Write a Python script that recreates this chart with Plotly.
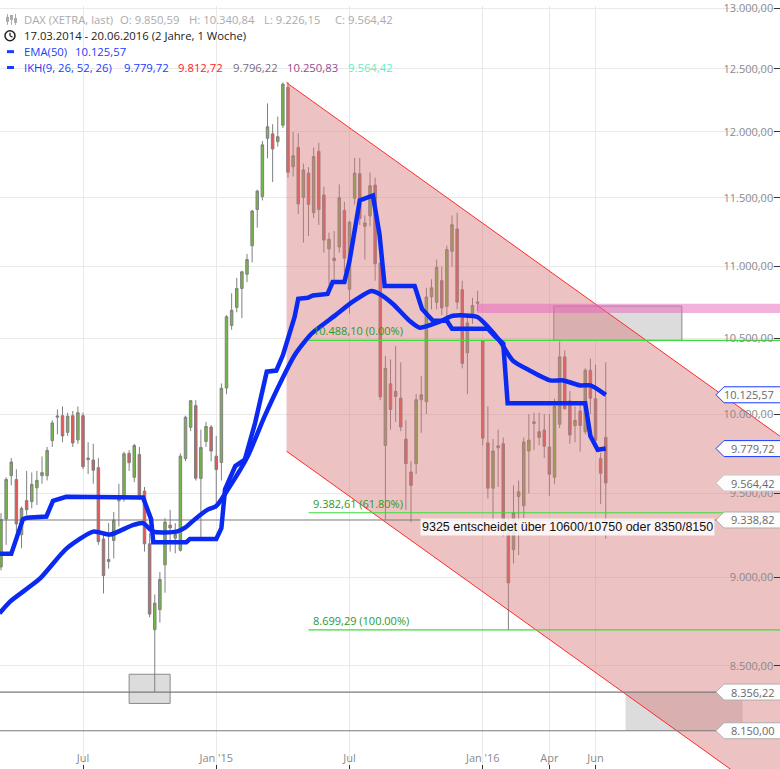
import numpy as np
import pandas as pd
import plotly.graph_objects as go

W, H = 780, 769

# ---------------- weekly DAX candles ----------------
first_week = "2014-03-17"
n_weeks = 119
opens = [9060, 9345, 9610, 9586, 9250, 9457, 9450, 9535, 9610, 9610,
         9830, 9980, 9990, 9883, 9990, 9835, 9990, 9710, 9708, 9660,
         9225, 9104, 9216, 9455, 9485, 9750, 9600, 9742, 9515, 9196,
         8700, 8813, 9072, 9308, 9230, 9158, 9716, 9915, 10055, 9593,
         9825, 9917, 9732, 9692, 10170, 10590, 10714, 10846, 10946, 11149,
         11413, 11509, 11950, 11985, 11925, 12052, 12351, 11733, 11880, 11503,
         11685, 11390, 11850, 11521, 11127, 11060, 11140, 11407, 10840, 11497,
         11680, 11290, 11366, 11595, 11025, 9800, 10198, 10148, 10104, 9840,
         9633, 9685, 10093, 10080, 10788, 10750, 10901, 10722, 11109, 11270,
         10837, 10404, 10670, 10752, 10483, 9816, 9533, 9785, 9810, 9308,
         9161, 9481, 9425, 9765, 9940, 9887, 9898, 9790, 9600, 9935,
         10377, 10086, 9926, 10020, 9887, 10288, 10100, 9717, 9850.59]
highs = [9380, 9600, 9720, 9650, 9420, 9640, 9630, 9640, 9730, 9790,
         9960, 10030, 10050, 10010, 10020, 10050, 10010, 9820, 9810, 9720,
         9250, 9320, 9387, 9560, 9760, 9770, 9810, 9790, 9540, 9260,
         8900, 9030, 9350, 9400, 9320, 9750, 9990, 10090, 10090, 9900,
         9950, 9930, 9860, 10200, 10660, 10812, 10920, 10970, 11090, 11410,
         11560, 11930, 12223, 12060, 12120, 12390, 12392, 12000, 11990, 11757,
         11730, 11880, 11916, 11583, 11244, 11255, 11600, 11470, 11330, 11800,
         11800, 11370, 11690, 11650, 11090, 10383, 10360, 10450, 10340, 9960,
         9700, 10130, 10250, 10850, 10910, 11050, 11000, 11150, 11370, 11390,
         10900, 10660, 10780, 10830, 10490, 10050, 9840, 9900, 9850, 9350,
         9550, 9580, 9850, 10000, 10010, 10010, 10000, 10000, 10100, 10480,
         10420, 10150, 10050, 10080, 10300, 10365, 10324, 9753, 10340.84]
lows = [9040, 9190, 9550, 9210, 9170, 9370, 9410, 9430, 9560, 9580,
        9790, 9870, 9820, 9860, 9790, 9810, 9650, 9620, 9560, 9190,
        8906, 9050, 9110, 9300, 9450, 9640, 9570, 9460, 9150, 8770,
        8355, 8740, 8910, 9150, 9140, 9150, 9700, 9890, 9580, 9225,
        9790, 9700, 9405, 9580, 10130, 10560, 10680, 10640, 10890, 11030,
        11280, 11480, 11797, 11618, 11887, 12030, 11650, 11660, 11380, 11172,
        11220, 11350, 11300, 11100, 10869, 10900, 11100, 10960, 10670, 11450,
        11300, 11050, 11290, 10900, 10090, 9338.82, 9900, 9950, 9890, 9400,
        9325, 9620, 9880, 10000, 10700, 10700, 10660, 10630, 11000, 10700,
        10300, 10130, 10600, 10690, 9800, 9470, 9314, 9540, 9240, 8699.29,
        9080, 9130, 9350, 9500, 9770, 9800, 9720, 9485, 9560, 9910,
        10030, 9810, 9820, 9760, 9870, 10000, 9830, 9435, 9226.15]
closes = [9342, 9587, 9695, 9315, 9409, 9401, 9556, 9581, 9629, 9768,
          9943, 9987, 9860, 9987, 9815, 10009, 9666, 9720, 9644, 9210,
          9009, 9092, 9339, 9470, 9747, 9691, 9799, 9490, 9196, 8788,
          8850, 8987, 9326, 9291, 9252, 9732, 9980, 10087, 9594, 9787,
          9921, 9764, 9648, 10168, 10649, 10694, 10846, 10963, 11050, 11402,
          11550, 11900, 12040, 11868, 11963, 12376, 11691, 11816, 11454, 11709,
          11451, 11810, 11413, 11190, 11196, 11043, 11500, 11060, 11320, 11685,
          11347, 11315, 11590, 11020, 10112, 10300, 10030, 10115, 9917, 9685,
          9550, 10093, 10126, 10786, 10850, 10994, 10710, 11121, 11302, 10750,
          10333, 10607, 10727, 10743, 9846, 9533, 9764, 9797, 9286, 8967,
          9384, 9510, 9821, 9833, 9950, 9851, 9794, 9619, 10051, 10377,
          10034, 9866, 9959, 9927, 10288, 10103, 9832, 9625, 9564.42]
week_dates = pd.date_range(first_week, periods=n_weeks, freq="7D")

# ---------------- indicator lines ----------------
ema_dates = ["2014-03-15", "2014-03-29", "2014-05-09", "2014-06-14", "2014-07-21",
             "2014-08-13", "2014-09-13", "2014-09-27", "2014-10-11", "2014-11-12",
             "2014-11-24", "2014-12-07", "2014-12-25", "2015-01-05", "2015-01-21",
             "2015-02-17", "2015-03-12", "2015-04-04", "2015-04-22", "2015-05-15",
             "2015-06-16", "2015-07-10", "2015-08-05", "2015-08-16", "2015-09-03",
             "2015-09-26", "2015-10-10", "2015-11-06", "2015-11-24", "2015-12-27",
             "2016-01-11", "2016-01-27", "2016-02-14", "2016-03-08", "2016-04-05",
             "2016-04-23", "2016-05-16", "2016-05-30", "2016-06-20"]
ema_vals = [8792, 8858, 8991, 9166, 9269,
            9251, 9308, 9320, 9269, 9269,
            9294, 9344, 9403, 9423, 9526,
            9732, 9985, 10220, 10388, 10533,
            10657, 10752, 10828, 10807, 10739,
            10621, 10574, 10615, 10656, 10649,
            10581, 10486, 10352, 10286, 10220,
            10220, 10187, 10187, 10125.57]

ikh_dates = ["2014-03-15", "2014-03-31", "2014-04-16", "2014-04-21", "2014-05-18",
             "2014-05-27", "2014-06-14", "2014-09-27", "2014-10-08", "2014-10-11",
             "2014-11-25", "2014-11-30", "2015-01-05", "2015-01-12", "2015-01-17",
             "2015-01-31", "2015-02-13", "2015-02-27", "2015-03-15", "2015-03-28",
             "2015-04-06", "2015-04-22", "2015-04-27", "2015-05-10", "2015-05-17",
             "2015-06-06", "2015-06-13", "2015-06-29", "2015-07-06", "2015-07-13",
             "2015-07-20", "2015-08-07", "2015-08-16", "2015-08-23", "2015-10-03",
             "2015-10-13", "2015-10-28", "2015-11-16", "2015-11-23", "2016-01-11",
             "2016-01-21", "2016-02-01", "2016-02-07", "2016-05-23", "2016-05-30",
             "2016-06-09", "2016-06-20"]
ikh_vals = [9137, 9137, 9344, 9352, 9360,
            9455, 9480, 9476, 9344, 9206,
            9206, 9225, 9225, 9290, 9526,
            9670, 9711, 9942, 10278, 10285,
            10388, 10648, 10773, 10780, 10797,
            10807, 10891, 10891, 11039, 11254,
            11480, 11517, 11232, 10863, 10863,
            10703, 10621, 10621, 10567, 10567,
            10513, 10466, 10071, 10071, 9860,
            9772, 9779.72]

# ---------------- drawings ----------------
channel_dates = ["2015-04-11", "2017-02-13"]
channel_upper = [12388, 9858]
channel_lower = [9763, 7770]

fib_start = "2015-05-11"
fib_label_date = "2015-05-15"
fib_levels = [10488.10, 9382.61, 8699.29]
fib_labels = ["10.488,10 (0.00%)", "9.382,61 (61.80%)", "8.699,29 (100.00%)"]

level_lines = [9338.82, 8356.22, 8150.00]

price_tags = [10125.57, 9779.72, 9564.42, 9338.82, 8356.22, 8150.00]
price_tag_edge = ["#1a3cff", "#1a3cff", "#c8c8c8", "#b0b0b0", "#b0b0b0", "#b0b0b0"]

zone_start = ["2014-09-08", "2016-04-10", "2016-07-17"]
zone_end = ["2014-11-03", "2016-10-02", "2016-12-24"]
zone_low = [8295, 10488.10, 8150.00]
zone_high = [8453, 10723, 8356.22]
zone_edge = ["#8a8a8a", "#8a8a8a", "rgba(0,0,0,0)"]

band_start = "2015-12-27"
band_low, band_high = 10675, 10739

note_text = "9325 entscheidet über 10600/10750 oder 8350/8150"
note_date, note_price = "2015-10-10", 9350

x_start, x_end = "2014-03-15 15:00", "2017-02-13"
y_range_prices = [7951, 13017]

x_tick_dates = ["2014-07-07", "2015-01-05", "2015-07-06", "2016-01-04", "2016-04-04", "2016-06-06"]
x_tick_text = ["Jul", "Jan '15", "Jul", "Jan '16", "Apr", "Jun"]
y_tick_vals = [8000, 8500, 9000, 9500, 10000, 10500, 11000, 11500, 12000, 12500, 13000]

header_rows = [
    # (text, x pixel, y pixel, colour)
    ("DAX (XETRA, last)", 22, 14, "#ababab"),
    ("O: 9.850,59", 118, 14, "#ababab"),
    ("H: 10.340,84", 187, 14, "#ababab"),
    ("L: 9.226,15", 262, 14, "#ababab"),
    ("C: 9.564,42", 333, 14, "#ababab"),
    ("17.03.2014 - 20.06.2016 (2 Jahre, 1 Woche)", 22, 30, "#222222"),
    ("EMA(50)", 22, 46, "#1a3cff"),
    ("10.125,57", 73, 46, "#1a3cff"),
    ("IKH(9, 26, 52, 26)", 22, 62, "#1a3cff"),
    ("9.779,72", 122, 62, "#1a3cff"),
    ("9.812,72", 176, 62, "#ff2222"),
    ("9.796,22", 231, 62, "#796d86"),
    ("10.250,83", 285, 62, "#934b93"),
    ("9.564,42", 346, 62, "#5cf2c2"),
]


def de(v):
    s = f"{v:,.2f}"
    return s.replace(",", "X").replace(".", ",").replace("X", ".")


def px(x):
    return x / W


def py(y):
    return 1 - y / H


LINE_BLUE = "#0a2af2"
FONT = "Open Sans"

fig = go.Figure()

fig.add_trace(go.Candlestick(
    x=week_dates, open=opens, high=highs, low=lows, close=closes,
    increasing=dict(fillcolor="#72b842", line=dict(color="#808080", width=1)),
    decreasing=dict(fillcolor="#e35757", line=dict(color="#808080", width=1)),
    whiskerwidth=0, hoverinfo="skip"))

# channel fill
fig.add_trace(go.Scatter(
    x=[channel_dates[0], channel_dates[1], channel_dates[1], channel_dates[0], channel_dates[0]],
    y=[channel_upper[0], channel_upper[1], channel_lower[1], channel_lower[0], channel_upper[0]],
    mode="lines", fill="toself", fillcolor="rgba(214,120,120,0.45)",
    line=dict(width=0, color="rgba(0,0,0,0)"), hoverinfo="skip"))
for arr in (channel_upper, channel_lower):
    fig.add_trace(go.Scatter(x=channel_dates, y=arr, mode="lines",
                             line=dict(color="#ff2a2a", width=1), hoverinfo="skip"))

for lv in level_lines:
    fig.add_trace(go.Scatter(x=[x_start, x_end], y=[lv, lv], mode="lines",
                             line=dict(color="#7a7a7a", width=1.2), hoverinfo="skip"))
for lv in fib_levels:
    fig.add_trace(go.Scatter(x=[fib_start, x_end], y=[lv, lv], mode="lines",
                             line=dict(color="#3ddc3d", width=1.2), hoverinfo="skip"))

fig.add_trace(go.Scatter(x=ema_dates, y=ema_vals, mode="lines",
                         line=dict(color=LINE_BLUE, width=4.5, shape="spline", smoothing=0.6),
                         hoverinfo="skip"))
fig.add_trace(go.Scatter(x=ikh_dates, y=ikh_vals, mode="lines",
                         line=dict(color=LINE_BLUE, width=4.5), hoverinfo="skip"))

shapes = []
for s, e, lo, hi, edge in zip(zone_start, zone_end, zone_low, zone_high, zone_edge):
    shapes.append(dict(type="rect", xref="x", yref="y", x0=s, x1=e, y0=lo, y1=hi,
                       fillcolor="#dcdcdc", line=dict(color=edge, width=1), layer="between"))
shapes.append(dict(type="rect", xref="x", yref="y", x0=band_start, x1=x_end,
                   y0=band_low, y1=band_high, fillcolor="rgba(232,100,190,0.5)",
                   line=dict(width=0), layer="above"))
for v, edge in zip(price_tags, price_tag_edge):
    shapes.append(dict(type="path", xref="paper", yref="y", xsizemode="pixel",
                       ysizemode="pixel", xanchor=1, yanchor=v,
                       path="M -64 0 L -56 8 L 3 8 L 3 -8 L -56 -8 Z",
                       fillcolor="#fdfdfd", line=dict(color=edge, width=1), layer="above"))

# header icons
for i, (xx, top, bot) in enumerate([(7.5, 11, 16), (11.5, 9, 14), (15.5, 12, 17)]):
    shapes.append(dict(type="line", xref="paper", yref="paper", x0=px(xx), x1=px(xx),
                       y0=py(8 + i % 2), y1=py(19), line=dict(color="#ababab", width=1)))
    shapes.append(dict(type="rect", xref="paper", yref="paper", x0=px(xx - 1.5), x1=px(xx + 1.5),
                       y0=py(top), y1=py(bot), fillcolor="#ababab", line=dict(width=0)))
shapes.append(dict(type="circle", xref="paper", yref="paper", x0=px(5), x1=px(15),
                   y0=py(25), y1=py(35), line=dict(color="#222", width=1.5)))
shapes.append(dict(type="line", xref="paper", yref="paper", x0=px(10), x1=px(10),
                   y0=py(30), y1=py(27), line=dict(color="#222", width=1.3)))
shapes.append(dict(type="line", xref="paper", yref="paper", x0=px(10), x1=px(12.5),
                   y0=py(30), y1=py(31.5), line=dict(color="#222", width=1.3)))
for yy in (46, 62):
    shapes.append(dict(type="line", xref="paper", yref="paper", x0=px(7), x1=px(14),
                       y0=py(yy), y1=py(yy), line=dict(color="#1a3cff", width=3)))

annotations = []
for lv, lab in zip(fib_levels, fib_labels):
    annotations.append(dict(x=fib_label_date, y=np.log10(lv), xref="x", yref="y", text=lab,
                            xanchor="left", yanchor="bottom", showarrow=False,
                            font=dict(family=FONT, size=11, color="#2a9a2a")))
annotations.append(dict(x=note_date, y=np.log10(note_price), xref="x", yref="y", text=note_text,
                        xanchor="left", yanchor="top", showarrow=False,
                        bgcolor="rgba(255,255,255,0.82)", borderpad=1,
                        font=dict(family="Liberation Sans", size=12.5, color="#111")))
for v in price_tags:
    annotations.append(dict(x=1, y=np.log10(v), xref="paper", yref="y", text=de(v),
                            xanchor="right", yanchor="middle", xshift=-4, showarrow=False,
                            font=dict(family=FONT, size=11, color="#6a6a6a")))
for txt, xx, yy, col in header_rows:
    annotations.append(dict(x=px(xx), y=py(yy), xref="paper", yref="paper", text=txt,
                            xanchor="left", yanchor="middle", showarrow=False,
                            font=dict(family=FONT, size=11.3, color=col)))

fig.update_layout(
    width=W, height=H, margin=dict(l=0, r=0, t=0, b=0),
    paper_bgcolor="white", plot_bgcolor="white", showlegend=False,
    separators=",.",
    shapes=shapes, annotations=annotations,
    xaxis=dict(type="date", range=[x_start, x_end], tickvals=x_tick_dates, ticktext=x_tick_text,
               ticks="inside", ticklen=4, tickcolor="#333", ticklabelposition="inside",
               showgrid=True, gridcolor="#e9e9e9", zeroline=False, showline=False,
               rangeslider=dict(visible=False),
               tickfont=dict(family=FONT, size=11, color="#8a8a8a")),
    yaxis=dict(type="log", range=[np.log10(y_range_prices[0]), np.log10(y_range_prices[1])],
               side="right", tickvals=y_tick_vals, ticktext=[de(v) for v in y_tick_vals],
               ticks="inside", ticklen=6, tickcolor="#333", ticklabelposition="inside",
               ticklabeloverflow="allow",
               showgrid=True, gridcolor="#e9e9e9", zeroline=False, showline=False,
               tickfont=dict(family=FONT, size=11, color="#8a8a8a")),
)

fig.write_html("out.html", config={"displayModeBar": False},
               post_script="document.body.style.margin='0px';document.body.style.overflow='hidden';")
